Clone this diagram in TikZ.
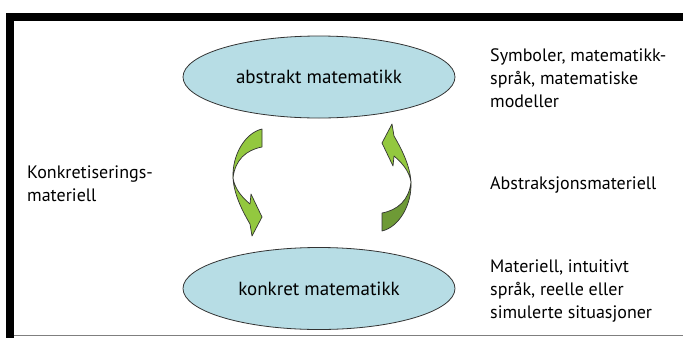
\documentclass[tikz,border=0pt]{standalone}
\usepackage{fontspec}
\setmainfont{PT Sans}
\usetikzlibrary{shapes.geometric}
\definecolor{ellfill}{HTML}{B7DDE5}
\definecolor{greenlight}{HTML}{93C83F}
\definecolor{greendark}{HTML}{6E9A36}
\definecolor{framegray}{HTML}{7F7F7F}
\tikzset{
  ell/.style={ellipse, draw=black!80, line width=0.8pt, fill=ellfill,
    minimum width=272pt, minimum height=82pt, inner sep=0pt,
    font=\fontsize{19}{21}\selectfont},
  lbl/.style={anchor=west, align=left, inner sep=0pt,
    font=\fontsize{18}{23}\selectfont},
  arrowpart/.style={draw=black!80, line width=0.7pt, line join=round}
}
\begin{document}
\begin{tikzpicture}[x=1pt,y=-1pt]
\useasboundingbox (0,0) rectangle (683,338);
\fill[white] (0,0) rectangle (683,338);
% frame
\fill[black] (6,13) rectangle (683,21);
\fill[black] (6,13) rectangle (14,338);
\draw[framegray, line width=1.2pt] (14,335.5) -- (683,335.5);
% ellipses
\node[ell] (abs) at (319,77) {abstrakt matematikk};
\node[ell] (konk) at (319,288.5) {konkret matematikk};
% labels
\node[lbl] (sym) at (490,78) {Symboler, matematikk-\\språk, matematiske\\modeller};
\node[lbl] (absm) at (490,185) {Abstraksjonsmateriell};
\node[lbl] (mat) at (490,291) {Materiell, intuitivt\\språk, reelle eller\\simulerte situasjoner};
\node[lbl] (konm) at (27,184) {Konkretiserings-\\materiell};
% left curved arrow
\fill[greenlight, arrowpart] (262,129) .. controls (245,133) and (232,155) .. (233,178)
  .. controls (235,160) and (246,150) .. (262,147) -- cycle;
\fill[greenlight, arrowpart] (233,178) .. controls (234,195) and (243,212) .. (250,224)
  -- (252,236) -- (262,217) -- (251,194) -- (250,204)
  .. controls (243,198) and (235,190) .. (233,178) -- cycle;
% right curved arrow (point-symmetric)
\begin{scope}[rotate around={180:(322,180)}]
\fill[greendark, arrowpart] (262,129) .. controls (245,133) and (232,155) .. (233,178)
  .. controls (235,160) and (246,150) .. (262,147) -- cycle;
\fill[greenlight, arrowpart] (233,178) .. controls (234,195) and (243,212) .. (250,224)
  -- (252,236) -- (262,217) -- (251,194) -- (250,204)
  .. controls (243,198) and (235,190) .. (233,178) -- cycle;
\end{scope}
\end{tikzpicture}
\end{document}
